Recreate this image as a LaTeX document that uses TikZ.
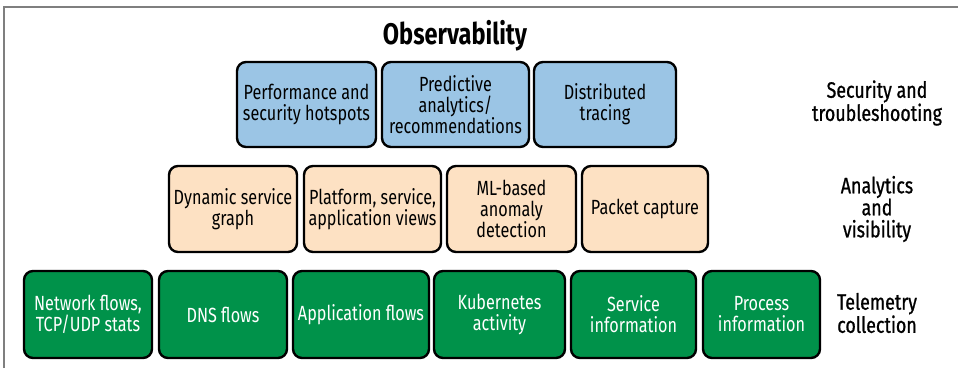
\documentclass[tikz,border=0pt]{standalone}
\usepackage{fontspec}
\setmainfont[FakeStretch=0.79]{Fira Sans}
\newfontfamily\sidefont[FakeStretch=0.8, FakeBold=0.8]{Fira Sans}
\definecolor{obsblue}{HTML}{9BC5E5}
\definecolor{obspeach}{HTML}{FDE1C3}
\definecolor{obsgreen}{HTML}{00924A}
\definecolor{framegray}{HTML}{7F7F7F}
\tikzset{
	layerbox/.style={draw=black, line width=2.4pt, rounded corners=9pt, align=center, inner sep=0pt,
		font=\fontsize{20.5}{21}\selectfont},
	secbox/.style={layerbox, fill=obsblue},
	anabox/.style={layerbox, fill=obspeach},
	telbox/.style={layerbox, fill=obsgreen, text=white},
	layername/.style={align=center, font=\sidefont\fontsize{22.3}{22}\selectfont}
}
\begin{document}
\begin{tikzpicture}[x=1pt, y=-1pt]
		\useasboundingbox (0,0) rectangle (958,368);
		\draw[framegray, line width=1.5pt] (4,368)--(4,7)--(958,7);
		\node[font=\fontsize{29.8}{30}\selectfont\bfseries] (title) at (455,36) {Observability};
		\node[secbox, minimum width=139pt, minimum height=85pt] (hotspots) at (306.5,104.5) {Performance and\\security hotspots};
		\node[secbox, minimum width=147pt, minimum height=85pt] (predict) at (455.5,104.5) {Predictive\\analytics/\\recommendations};
		\node[secbox, minimum width=142pt, minimum height=85pt] (tracing) at (605,104.5) {Distributed\\tracing};
		\node[anabox, minimum width=128pt, minimum height=86pt] (graph) at (233,209) {Dynamic service\\graph};
		\node[anabox, minimum width=137pt, minimum height=86pt] (views) at (372.5,209) {Platform, service,\\application views};
		\node[anabox, minimum width=129pt, minimum height=86pt] (anomaly) at (511.5,209) {ML-based\\anomaly\\detection};
		\node[anabox, minimum width=126pt, minimum height=86pt] (capture) at (645,209) {Packet capture};
		\node[telbox, minimum width=128pt, minimum height=87pt] (netflows) at (88,314.5) {Network flows,\\TCP/UDP stats};
		\node[telbox, minimum width=128pt, minimum height=87pt] (dnsflows) at (223,314.5) {DNS flows};
		\node[telbox, minimum width=136pt, minimum height=87pt] (appflows) at (361,314.5) {Application flows};
		\node[telbox, minimum width=131pt, minimum height=87pt] (kube) at (499.5,314.5) {Kubernetes\\activity};
		\node[telbox, minimum width=125pt, minimum height=87pt] (service) at (633.5,314.5) {Service\\information};
		\node[telbox, minimum width=117pt, minimum height=87pt] (process) at (761.5,314.5) {Process\\information};
		\node[layername] (security) at (877,103) {Security and\\troubleshooting};
		\node[layername] (analytics) at (877,209) {Analytics\\and\\visibility};
		\node[layername] (telemetry) at (877,313) {Telemetry\\collection};
		\end{tikzpicture}
\end{document}
